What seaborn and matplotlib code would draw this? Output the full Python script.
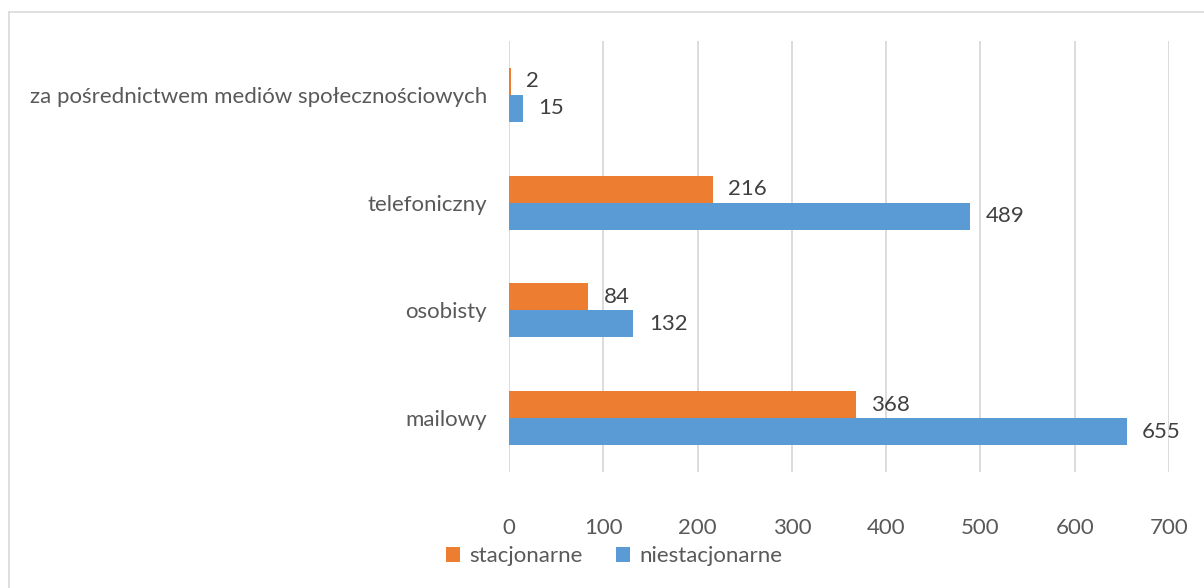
import matplotlib
matplotlib.use("Agg")
import matplotlib.pyplot as plt
from matplotlib.lines import Line2D
from matplotlib.patches import Patch
import seaborn as sns
import pandas as pd

# Contact channels (top to bottom) and counts per study mode
categories = ["za pośrednictwem mediów społecznościowych", "telefoniczny", "osobisty", "mailowy"]
stacjonarne = [2, 216, 84, 368]
niestacjonarne = [15, 489, 132, 655]
series_names = ["stacjonarne", "niestacjonarne"]
x_ticks = [0, 100, 200, 300, 400, 500, 600, 700]

colors = {"stacjonarne": "#ED7D31", "niestacjonarne": "#5B9BD5"}
text_color = "#595959"
grid_color = "#D9D9D9"
fs = 16

df = pd.DataFrame({
    "kanal": categories * 2,
    "liczba": stacjonarne + niestacjonarne,
    "tryb": [series_names[0]] * len(categories) + [series_names[1]] * len(categories),
})

sns.set_theme(style="white")
plt.rcParams["font.family"] = ["Lato", "DejaVu Sans"]

fig = plt.figure(figsize=(12.04, 5.88), dpi=100)
ax = fig.add_axes([509 / 1204, 1 - 472 / 588, (1169 - 509) / 1204, (472 - 41) / 588])

sns.barplot(data=df, x="liczba", y="kanal", hue="tryb", order=categories,
            hue_order=series_names, palette=colors, orient="h", width=0.5,
            saturation=1, ax=ax, legend=False, linewidth=0)

for cont in ax.containers:
    ax.bar_label(cont, fmt="%d", padding=11, fontsize=fs, color="#404040")

ax.set_xlim(0, 700)
ax.set_ylim(3.5, -0.5)
ax.set_xticks(x_ticks)
ax.set_xticklabels([str(t) for t in x_ticks])
ax.xaxis.grid(True, color=grid_color, linewidth=1.3)
ax.set_axisbelow(True)
for s in ax.spines.values():
    s.set_visible(False)
ax.tick_params(axis="x", length=0, pad=33, labelsize=fs, labelcolor=text_color)
ax.tick_params(axis="y", length=0, pad=16, labelsize=fs, labelcolor=text_color)
ax.set_xlabel("")
ax.set_ylabel("")

handles = [Patch(facecolor=colors[n], edgecolor="none") for n in series_names]
fig.legend(handles, series_names, loc="center", bbox_to_anchor=(614 / 1204, 1 - 556 / 588),
           ncol=2, frameon=False, fontsize=fs, labelcolor=text_color,
           handlelength=0.65, handleheight=0.65, handletextpad=0.4, columnspacing=1.5)

# Chart frame
fig.add_artist(Line2D([9 / 1204, 9 / 1204], [0, 1 - 12 / 588], transform=fig.transFigure,
                      color=grid_color, linewidth=1.2))
fig.add_artist(Line2D([9 / 1204, 1], [1 - 12 / 588, 1 - 12 / 588], transform=fig.transFigure,
                      color=grid_color, linewidth=1.2))

fig.savefig("out.png", dpi=100, facecolor="white")
